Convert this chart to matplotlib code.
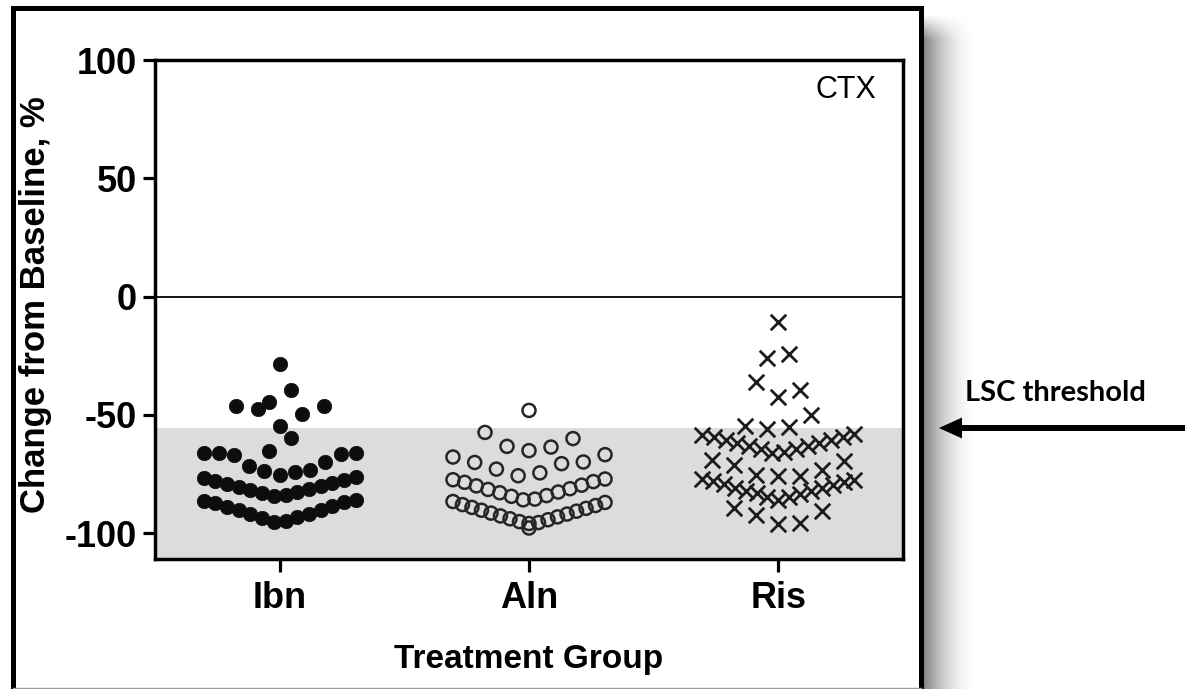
import numpy as np
import matplotlib
matplotlib.use("Agg")
import matplotlib.pyplot as plt
from matplotlib.lines import Line2D
from matplotlib.patches import FancyArrow

plt.rcParams['axes.unicode_minus'] = False
plt.rcParams['font.family'] = ['Liberation Sans', 'DejaVu Sans']

# ---------------- data ----------------
categories = ["Ibn", "Aln", "Ris"]
ibn = [-28.3, -39.6, -44.5, -46.1, -46.3, -47.4, -49.5, -54.8, -59.7, -65.1,
       -75.2, -74.0, -73.8, -73.1, -71.8, -70.1, -66.8, -66.5, -66.3, -66.2, -66.1,
       -84.3, -83.9, -82.9, -82.6, -81.6, -81.3, -80.3, -80.0, -79.1, -78.8, -77.8, -77.5, -76.6, -76.4,
       -95.1, -94.8, -93.5, -93.2, -92.0, -91.7, -90.4, -90.1, -88.9, -88.6, -87.3, -87.0, -86.3, -86.1]
aln = [-48.1,
       -65.1, -63.6, -63.3, -60.0, -57.4,
       -75.7, -74.5, -72.9, -70.6, -70.1, -69.9, -67.8, -66.8,
       -85.9, -85.6, -84.4, -84.1, -82.9, -82.6, -81.5, -81.2, -80.0, -79.7, -78.5, -78.2, -77.4, -77.1,
       -95.9, -95.5, -95.1, -94.3, -93.9, -93.1, -92.7, -91.9, -91.5, -90.7, -90.3, -89.5, -89.1,
       -88.3, -87.9, -87.0, -86.6,
       -97.8]
ris = [-10.9,
       -25.9, -24.1,
       -42.4, -39.6, -36.1,
       -55.9, -55.3, -54.8, -49.9,
       -65.9, -65.7, -64.6, -64.4, -63.3, -63.1, -62.0, -61.8, -60.7, -60.5, -59.4, -59.2, -58.4, -57.9,
       -75.9, -75.7, -75.2, -73.1, -71.0, -69.6, -68.9,
       -85.9, -84.8, -84.5, -83.5, -83.2, -82.3, -82.0, -81.0, -80.7, -79.7, -79.4, -78.4, -78.1, -77.4, -77.0,
       -95.9, -95.7, -92.1, -90.7, -89.3]
lsc_threshold = -55.7
y_ticks = [100, 50, 0, -50, -100]


# ---------------- Prism-like scatter layout ----------------
def scatter_offsets(values, bin_w=10.0, bin_edge=-6.0, step=0.0882, max_w=0.61):
    v = np.asarray(values, dtype=float)
    bins = np.floor((v - bin_edge) / bin_w)
    off = np.zeros(len(v))
    for b in np.unique(bins):
        idx = np.where(bins == b)[0]
        idx = idx[np.argsort(v[idx], kind="stable")]
        n = len(idx)
        if n == 1:
            continue
        sp = min(step, max_w / (n - 1))
        if n % 2 == 1:
            slots = [0.0]
            k = 1
            while len(slots) < n:
                slots += [k, -k]
                k += 1
        else:
            slots = []
            k = 0.5
            while len(slots) < n:
                slots += [-k, k]
                k += 1
        off[idx] = np.array(slots[:n]) * sp
    return off


W, H = 1185, 689
fig = plt.figure(figsize=(W / 100, H / 100), dpi=100)
fig.patch.set_facecolor("white")

ax = fig.add_axes([155 / W, 1 - 559 / H, (903 - 155) / W, (559 - 60) / H])
ax.set_xlim(-0.5, 2.5)
ax.set_ylim(-110.9, 100)

ax.axhspan(-110.9, lsc_threshold, color="#dcdcdc", zorder=0, lw=0)
ax.axhline(0, color="black", lw=1.3, zorder=1)

groups = [ibn, aln, ris]
xs = [i + scatter_offsets(g) for i, g in enumerate(groups)]
ax.scatter(xs[0], ibn, s=108, marker="o", facecolor="#0d0d0d", edgecolor="#0d0d0d",
           linewidths=0.5, zorder=3)
ax.scatter(xs[1], aln, s=88, marker="o", facecolor="none", edgecolor="#262626",
           linewidths=1.8, zorder=3)
ax.scatter(xs[2], ris, s=125, marker="x", color="#1c1c1c", linewidths=2.0, zorder=3)

ax.set_xticks(range(len(categories)))
ax.set_xticklabels(categories, fontsize=26, fontweight="bold")
ax.set_yticks(y_ticks)
ax.set_yticklabels([str(t) for t in y_ticks], fontsize=26, fontweight="bold")
ax.tick_params(axis="both", direction="out", length=9, width=2.3, color="black")
ax.tick_params(axis="x", pad=7)
ax.tick_params(axis="y", pad=4)
for sp in ax.spines.values():
    sp.set_linewidth(2.5)
    sp.set_color("black")

ax.set_ylabel("Change from Baseline, %", fontsize=25, fontweight="bold", va="center")
ax.yaxis.set_label_coords(-0.16, 0.51)
ax.set_xlabel("Treatment Group", fontsize=24, fontweight="bold", va="center")
ax.xaxis.set_label_coords(0.5, -0.202)

ax.text(0.965, 0.94, "CTX", transform=ax.transAxes, ha="right", va="center", fontsize=22)


# ---------------- figure decorations ----------------
def fx(x):
    return x / W


def fy(y):
    return 1 - y / H


# shadow to the right of the frame
sw, sh = 60, H - 14
shadow = np.zeros((sh, sw, 4))
xx = np.arange(sw)
alpha_x = 0.5 * np.clip(1 - xx / 55.0, 0, 1) ** 2
yy = np.arange(sh)
alpha_y = np.clip(yy / 25.0, 0, 1)
shadow[..., 3] = alpha_y[:, None] * alpha_x[None, :]
fig.figimage(shadow, xo=923, yo=0, origin="upper", zorder=1)

# frame
frame = Line2D([fx(13), fx(13), fx(920.5), fx(920.5)], [fy(700), fy(7.5), fy(7.5), fy(700)],
               transform=fig.transFigure, color="black", lw=3.6, solid_joinstyle="miter")
fig.add_artist(frame)
fig.add_artist(Line2D([fx(13), fx(920.5)], [fy(688), fy(688)], transform=fig.transFigure,
                      color="#9a9a9a", lw=1.0))

# LSC threshold arrow and label
arrow = FancyArrow(fx(1190), fy(428), fx(939) - fx(1190), 0,
                   width=6 / H, head_width=21 / H, head_length=23 / W,
                   length_includes_head=True, transform=fig.transFigure,
                   color="black", lw=0)
fig.add_artist(arrow)
fig.text(fx(965), fy(393), "LSC threshold", family=["Lato", "DejaVu Sans"], fontweight="bold",
         fontsize=21, ha="left", va="center")

fig.savefig("out.png", dpi=100)
